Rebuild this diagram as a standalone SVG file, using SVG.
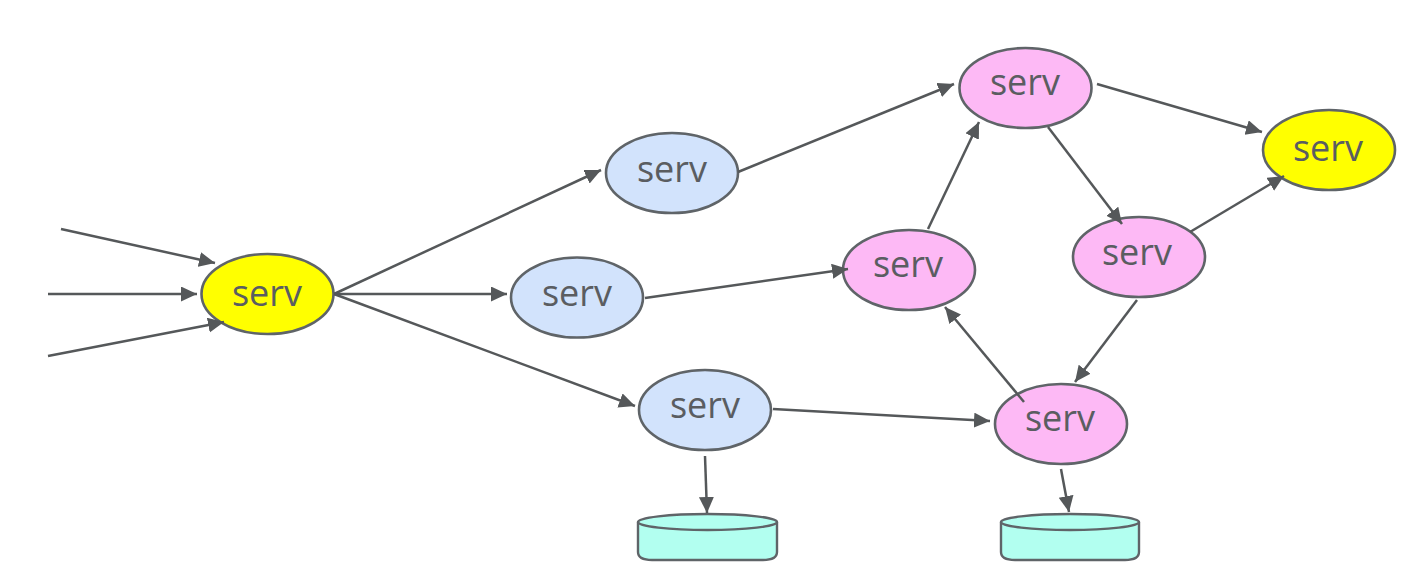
<svg xmlns="http://www.w3.org/2000/svg" width="1419" height="585" viewBox="0 0 1419 585">
<style>
.n{stroke:#5f6468;stroke-width:2.6}
.y{fill:#ffff00}.b{fill:#d2e3fc}.p{fill:#fdb9f5}
.t{font-family:"Open Sans","Noto Sans",sans-serif;font-size:36px;fill:#5a5d61;text-anchor:middle}
.c{stroke:#55585a;stroke-width:2.5;fill:none;marker-end:url(#a)}
.d{fill:#b2fff0;stroke:#5f6468;stroke-width:2.4}
</style>
<defs><marker id="a" markerUnits="userSpaceOnUse" markerWidth="18" markerHeight="16" refX="16" refY="7.500" orient="auto"><path d="M0 0L16 7.500L0 15Z" fill="#55585a"/></marker></defs>
<rect width="1419" height="585" fill="#fff"/>
<g id="s1"><ellipse class="n y" cx="267.500" cy="294" rx="66" ry="40"/><text class="t" x="267" y="306">serv</text></g>
<g id="s2"><ellipse class="n b" cx="672" cy="173" rx="66" ry="40"/><text class="t" x="672" y="182">serv</text></g>
<g id="s3"><ellipse class="n b" cx="577" cy="297.500" rx="66" ry="40"/><text class="t" x="577" y="306">serv</text></g>
<g id="s4"><ellipse class="n b" cx="705" cy="410" rx="66" ry="40"/><text class="t" x="705" y="418">serv</text></g>
<g id="s5"><ellipse class="n p" cx="1025.500" cy="88" rx="66" ry="40"/><text class="t" x="1025" y="95">serv</text></g>
<g id="s6"><ellipse class="n p" cx="909" cy="270" rx="66" ry="40"/><text class="t" x="908" y="277">serv</text></g>
<g id="s7"><ellipse class="n p" cx="1139" cy="257" rx="66" ry="40"/><text class="t" x="1137" y="265">serv</text></g>
<g id="s8"><ellipse class="n p" cx="1061" cy="424" rx="66" ry="40"/><text class="t" x="1060" y="431">serv</text></g>
<g id="s9"><ellipse class="n y" cx="1329" cy="150" rx="66" ry="40"/><text class="t" x="1328" y="161">serv</text></g>
<g id="db1"><path class="d" d="M638 522V552Q638 560 652 560H763Q777 560 777 552V522"/><ellipse class="d" cx="707.500" cy="522" rx="69.500" ry="8"/></g>
<g id="db2"><path class="d" d="M1001 522V552Q1001 560 1015 560H1125Q1139 560 1139 552V522"/><ellipse class="d" cx="1070" cy="522" rx="69" ry="8"/></g>
<g id="connectors">
<path class="c" d="M61 229L215 263"/>
<path class="c" d="M48 294L197 294"/>
<path class="c" d="M48 356L224 322"/>
<path class="c" d="M334 294L601 170"/>
<path class="c" d="M334 294L507 294"/>
<path class="c" d="M334 294L635 406"/>
<path class="c" d="M738 172L954 84"/>
<path class="c" d="M645 298L848 269"/>
<path class="c" d="M773 409L990 421"/>
<path class="c" d="M928 229L979 122"/>
<path class="c" d="M1024 402L945 307"/>
<path class="c" d="M1048 127L1122 224"/>
<path class="c" d="M1097 84L1262 132"/>
<path class="c" d="M1190 232L1284 176"/>
<path class="c" d="M1137 300L1075 382"/>
<path class="c" d="M705 456L707 513"/>
<path class="c" d="M1061 469L1069 512"/>
</g>
</svg>
